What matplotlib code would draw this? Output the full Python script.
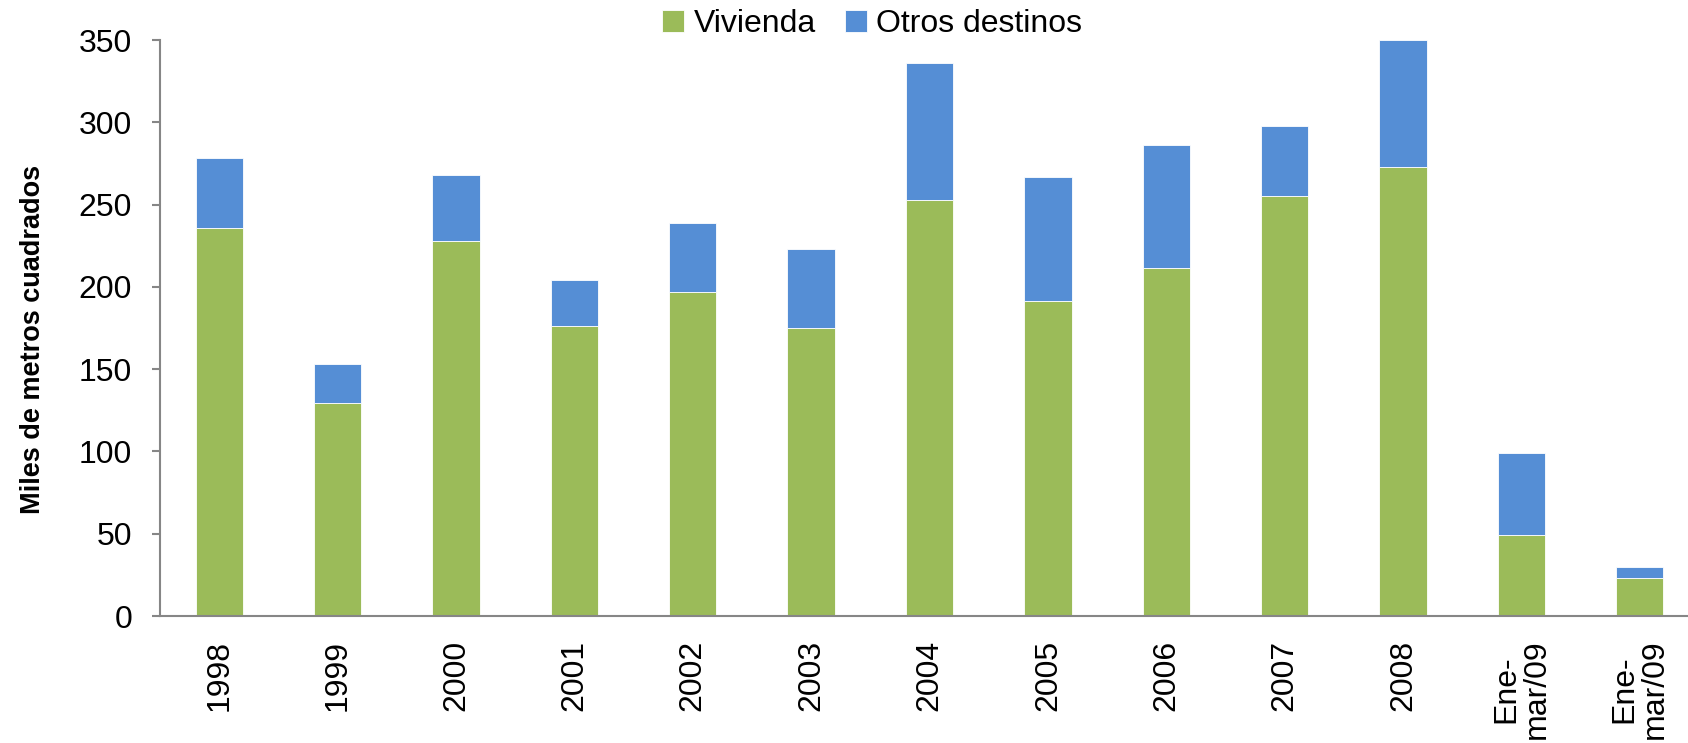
"""Stacked bars: miles de metros cuadrados por destino."""

import matplotlib
matplotlib.use("Agg")
import matplotlib.pyplot as plt
import numpy as np

plt.rcParams["font.family"] = ["Liberation Sans", "DejaVu Sans"]

categories = ["1998", "1999", "2000", "2001", "2002", "2003", "2004", "2005",
              "2006", "2007", "2008", "Ene-\nmar/09", "Ene-\nmar/09"]
vivienda = [236, 129.5, 228, 176.5, 197, 175, 253, 191.5, 211.5, 255, 273, 49, 23]
totales = [278, 153, 268, 204, 239, 223, 336, 267, 286, 298, 350, 99, 29.5]
otros = [t - v for t, v in zip(totales, vivienda)]

GREEN = "#9BBB59"
BLUE = "#558ED5"
AXIS = "#868686"

fig = plt.figure(figsize=(16.88, 7.43), dpi=100)
ax = fig.add_axes([160 / 1688, 1 - 616 / 743, 1539 / 1688, 576 / 743])

x = np.arange(len(categories))
ax.bar(x, vivienda, width=0.4, color=GREEN, edgecolor="white", linewidth=0.6, label="Vivienda")
ax.bar(x, otros, width=0.4, bottom=vivienda, color=BLUE, edgecolor="white", linewidth=0.6,
       label="Otros destinos")

ax.set_xlim(-0.5, len(categories) - 0.5)
ax.set_ylim(0, 350)
ax.set_yticks(np.arange(0, 351, 50))
ax.set_xticks(x)
ax.set_xticklabels(categories, rotation=90, ha="center", va="top", multialignment="center",
                   linespacing=1.0)

for side in ("top", "right"):
    ax.spines[side].set_visible(False)
for side in ("left", "bottom"):
    ax.spines[side].set_color(AXIS)
    ax.spines[side].set_linewidth(1.5)

ax.tick_params(axis="y", length=6, width=1.5, color=AXIS, pad=14, labelsize=23)
ax.tick_params(axis="x", length=0, pad=17, labelsize=23)
ax.set_ylabel("Miles de metros cuadrados", fontsize=19.5, fontweight="bold", labelpad=24, y=0.48)

fig.legend(loc="center", bbox_to_anchor=(872 / 1688, 1 - 24 / 743), ncol=2, frameon=False,
           fontsize=23, handlelength=0.7, handleheight=0.7, handletextpad=0.3, columnspacing=0.9)

fig.savefig("out.png", dpi=100)
